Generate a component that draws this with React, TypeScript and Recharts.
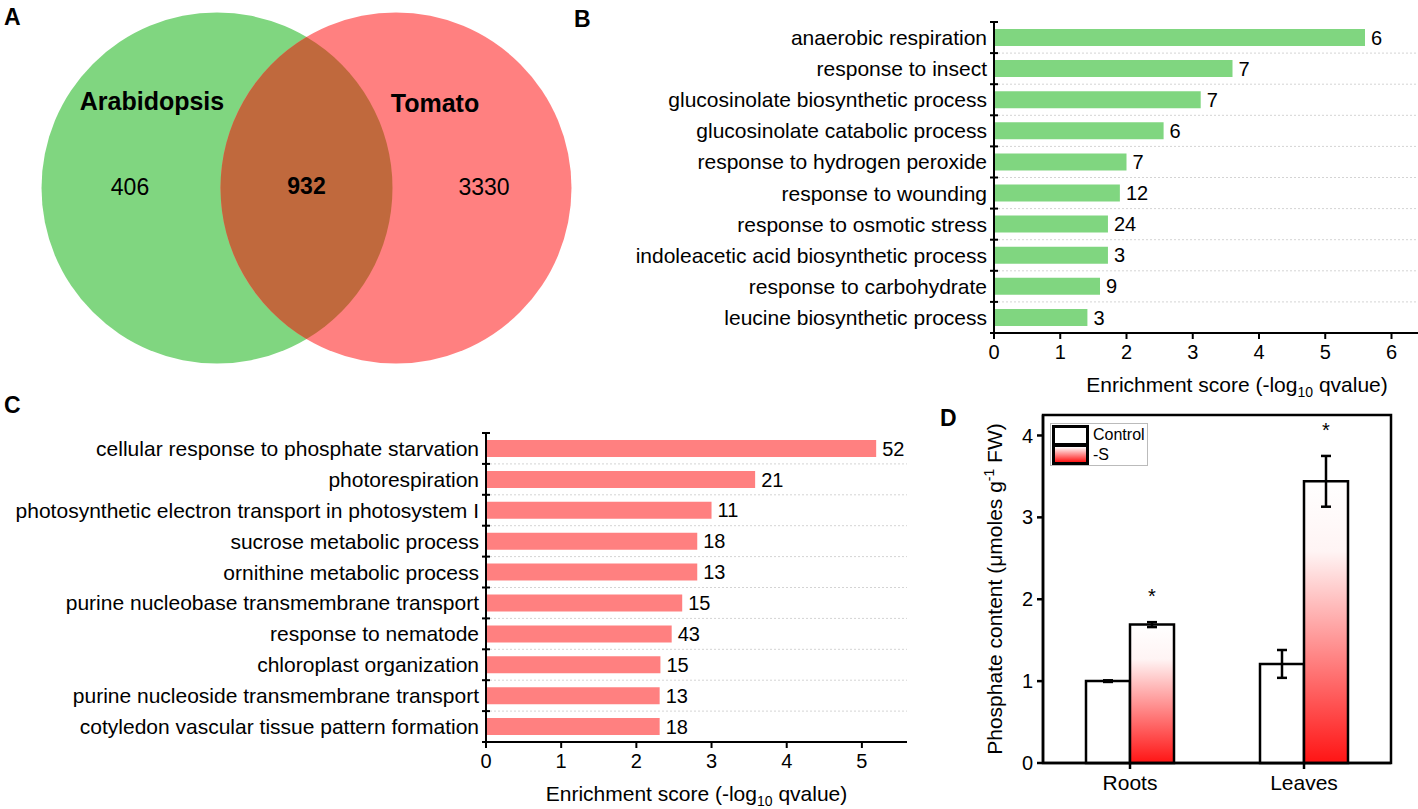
import React from 'react';
import {
  BarChart,
  Bar,
  ComposedChart,
  Scatter,
  XAxis,
  YAxis,
  CartesianGrid,
  LabelList,
  ErrorBar,
  ReferenceArea,
  Label,
} from 'recharts';

const FONT = '"Liberation Sans", Arial, Helvetica, sans-serif';
const GREEN = '#80d680';
const RED = '#ff8080';
const OVERLAP = '#c0693d';

// A: Venn diagram
const vennRegions = ['Arabidopsis', 'both', 'Tomato'];
const vennCounts = [406, 932, 3330];

// B: Arabidopsis GO enrichment
const termsB = [
  'anaerobic respiration',
  'response to insect',
  'glucosinolate biosynthetic process',
  'glucosinolate catabolic process',
  'response to hydrogen peroxide',
  'response to wounding',
  'response to osmotic stress',
  'indoleacetic acid biosynthetic process',
  'response to carbohydrate',
  'leucine biosynthetic process',
];
const scoresB = [5.6, 3.6, 3.12, 2.56, 2.0, 1.9, 1.72, 1.72, 1.6, 1.41];
const genesB = [6, 7, 7, 6, 7, 12, 24, 3, 9, 3];
const ticksB = [0, 1, 2, 3, 4, 5, 6];

// C: Tomato GO enrichment
const termsC = [
  'cellular response to phosphate starvation',
  'photorespiration',
  'photosynthetic electron transport in photosystem I',
  'sucrose metabolic process',
  'ornithine metabolic process',
  'purine nucleobase transmembrane transport',
  'response to nematode',
  'chloroplast organization',
  'purine nucleoside transmembrane transport',
  'cotyledon vascular tissue pattern formation',
];
const scoresC = [5.19, 3.58, 3.0, 2.81, 2.81, 2.61, 2.47, 2.32, 2.31, 2.31];
const genesC = [52, 21, 11, 18, 13, 15, 43, 15, 13, 18];
const ticksC = [0, 1, 2, 3, 4, 5];

// D: phosphate content
const tissues = ['Roots', 'Leaves'];
const controlMean = [1.0, 1.21];
const controlErr = [0.01, 0.17];
const sulfurMean = [1.69, 3.44];
const sulfurErr = [0.03, 0.31];
const significance = ['*', '*'];
const ticksD = [0, 1, 2, 3, 4];

const vennData = vennRegions.map((region, i) => ({ region, count: vennCounts[i] }));
const dataB = termsB.map((term, i) => ({ term, score: scoresB[i], genes: genesB[i] }));
const dataC = termsC.map((term, i) => ({ term, score: scoresC[i], genes: genesC[i] }));
const dataD = tissues.map((tissue, i) => ({
  tissue,
  control: controlMean[i],
  controlErr: controlErr[i],
  sulfur: sulfurMean[i],
  sulfurErr: sulfurErr[i],
  sig: significance[i],
}));

// venn geometry: regions sit on a point scale, sets at both ends
const VENN_CHART_W = 600;
const VENN_LEFT = 217;
const VENN_W = 179;
const VENN_R = 175.5;
const VENN_STEP = VENN_W / 2;

const SetCircle = (props: any) => {
  const { cx, cy, payload } = props;
  if (payload.region === 'both') return <g />;
  return <circle cx={cx} cy={cy} r={VENN_R} fill={payload.region === 'Arabidopsis' ? GREEN : RED} />;
};

const Lens = (props: any) => {
  const { cx, cy, payload } = props;
  if (payload.region !== 'both') return <g />;
  const h = Math.sqrt(VENN_R * VENN_R - VENN_STEP * VENN_STEP);
  const d = `M ${cx} ${cy - h} A ${VENN_R} ${VENN_R} 0 0 0 ${cx} ${cy + h} A ${VENN_R} ${VENN_R} 0 0 0 ${cx} ${cy - h} Z`;
  return <path d={d} fill={OVERLAP} />;
};

const VennText = (props: any) => {
  const { cx, cy, payload } = props;
  if (payload.region === 'both') {
    return (
      <text x={cx} y={cy + 6} textAnchor="middle" fontSize={23} fontWeight="bold" fill="#000">
        {payload.count}
      </text>
    );
  }
  const left = payload.region === 'Arabidopsis';
  return (
    <g>
      <text x={cx + (left ? -65 : 39)} y={cy + (left ? -78 : -76)} textAnchor="middle" fontSize={25} fontWeight="bold" fill="#000">
        {payload.region}
      </text>
      <text x={cx + (left ? -87 : 88)} y={cy + 7} textAnchor="middle" fontSize={23} fill="#000">
        {payload.count}
      </text>
    </g>
  );
};

const makeTermTick = (step: number) => (props: any) => {
  const { x, y, payload, index } = props;
  const ax = x + 7;
  return (
    <g>
      <text x={x} y={y} dy="0.355em" textAnchor="end" fontSize={21} fill="#000">
        {payload.value}
      </text>
      <line x1={ax - 4} x2={ax + 4} y1={y + step / 2} y2={y + step / 2} stroke="#000" strokeWidth={2} />
      {index === 0 && (
        <line x1={ax - 4} x2={ax + 4} y1={y - step / 2} y2={y - step / 2} stroke="#000" strokeWidth={2} />
      )}
    </g>
  );
};

const makeEnrichLabel = (shift: number) => (props: any) => {
  const { x, y, width } = props.viewBox;
  return (
    <text x={x + width / 2 + shift} y={y + 59} textAnchor="middle" fontSize={21} fill="#000">
      Enrichment score (-log
      <tspan fontSize={14} dy={5}>10</tspan>
      <tspan dy={-5}> qvalue)</tspan>
    </text>
  );
};

const boundaryLines = (n: number) => (props: any) => {
  const { offset } = props;
  const out: number[] = [];
  for (let i = 1; i < n; i++) out.push(offset.top + (i * offset.height) / n);
  return out;
};

const axisStyle = { stroke: '#000', strokeWidth: 2 };

function EnrichmentChart(props: {
  data: any[];
  color: string;
  width: number;
  height: number;
  top: number;
  right: number;
  axisWidth: number;
  maxX: number;
  ticks: number[];
  labelShift: number;
}) {
  const { data, color, width, height, top, right, axisWidth, maxX, ticks, labelShift } = props;
  const plotH = height - top - 67;
  const step = plotH / data.length;
  return (
    <BarChart
      layout="vertical"
      width={width}
      height={height}
      data={data}
      margin={{ top, right, bottom: 27, left: 0 }}
    >
      <CartesianGrid
        vertical={false}
        stroke="#d4d4d4"
        strokeDasharray="2 2"
        horizontalCoordinatesGenerator={boundaryLines(data.length)}
      />
      <XAxis
        type="number"
        domain={[0, maxX]}
        ticks={ticks}
        height={40}
        tickSize={6}
        tickMargin={6}
        axisLine={axisStyle}
        tickLine={axisStyle}
        tick={{ fill: '#000', fontSize: 20 }}
      >
        <Label content={makeEnrichLabel(labelShift)} />
      </XAxis>
      <YAxis
        type="category"
        dataKey="term"
        width={axisWidth}
        interval={0}
        tickSize={0}
        tickMargin={7}
        axisLine={axisStyle}
        tickLine={false}
        tick={makeTermTick(step)}
      />
      <Bar dataKey="score" fill={color} barSize={17} isAnimationActive={false}>
        <LabelList dataKey="genes" position="right" offset={6} fill="#000" fontSize={20} />
      </Bar>
    </BarChart>
  );
}

const StarLabel = (props: any) => {
  const { x, y, width, height, value, index } = props;
  const pxPerUnit = height / sulfurMean[index];
  const top = y - sulfurErr[index] * pxPerUnit;
  return (
    <text x={x + width / 2} y={top - 19} textAnchor="middle" fontSize={20} fill="#000">
      {value}
    </text>
  );
};

const PhosphateLabel = (props: any) => {
  const { x, y, width, height } = props.viewBox;
  const cx = x + width - 48;
  const cy = y + height / 2;
  return (
    <text
      x={cx}
      y={cy}
      dy="0.35em"
      textAnchor="middle"
      fontSize={21}
      fill="#000"
      transform={`rotate(-90 ${cx} ${cy})`}
    >
      Phosphate content (μmoles g
      <tspan fontSize={14} dy={-8}>-1</tspan>
      <tspan dy={8}> FW)</tspan>
    </text>
  );
};

const panelLetter = (letter: string, left: number, top: number) => (
  <div
    style={{
      position: 'absolute',
      left,
      top,
      fontSize: 23,
      fontWeight: 'bold',
      lineHeight: '23px',
    }}
  >
    {letter}
  </div>
);

export default function App() {
  const thick = { stroke: '#000', strokeWidth: 2.5 };
  return (
    <div
      style={{
        position: 'absolute',
        left: 0,
        top: 0,
        width: 1418,
        height: 809,
        background: '#fff',
        fontFamily: FONT,
        overflow: 'hidden',
      }}
    >
      {/* A */}
      <div style={{ position: 'absolute', left: 0, top: 0 }}>
        <ComposedChart
          width={VENN_CHART_W}
          height={400}
          data={vennData}
          margin={{ top: 0, right: VENN_CHART_W - VENN_LEFT - VENN_W, bottom: 24, left: VENN_LEFT }}
        >
          <XAxis dataKey="region" type="category" hide />
          <YAxis type="number" domain={[0, 2]} hide />
          <Scatter dataKey={() => 1} shape={SetCircle} isAnimationActive={false} />
          <Scatter dataKey={() => 1} shape={Lens} isAnimationActive={false} />
          <Scatter dataKey={() => 1} shape={VennText} isAnimationActive={false} />
        </ComposedChart>
      </div>

      {/* B */}
      <div style={{ position: 'absolute', left: 560, top: 0 }}>
        <EnrichmentChart
          data={dataB}
          color={GREEN}
          width={858}
          height={400}
          top={22}
          right={0}
          axisWidth={434}
          maxX={6.4}
          ticks={ticksB}
          labelShift={31}
        />
      </div>

      {/* C */}
      <div style={{ position: 'absolute', left: 0, top: 400 }}>
        <EnrichmentChart
          data={dataC}
          color={RED}
          width={930}
          height={409}
          top={33}
          right={23}
          axisWidth={486}
          maxX={5.6}
          ticks={ticksC}
          labelShift={0}
        />
      </div>

      {/* D */}
      <div style={{ position: 'absolute', left: 940, top: 400 }}>
        <BarChart
          width={478}
          height={409}
          data={dataD}
          margin={{ top: 15, right: 27, bottom: 0, left: 0 }}
          barGap={0}
          barSize={44}
        >
          <defs>
            <linearGradient id="gradS" x1="0" y1="0" x2="0" y2="1">
              <stop offset="0" stopColor="#ffffff" />
              <stop offset="0.25" stopColor="#fff4f4" />
              <stop offset="1" stopColor="#ff1414" />
            </linearGradient>
          </defs>
          <XAxis
            dataKey="tissue"
            height={46}
            tickSize={6}
            tickMargin={6}
            axisLine={thick}
            tickLine={thick}
            tick={{ fill: '#000', fontSize: 21 }}
          />
          <YAxis
            type="number"
            domain={[0, 4.25]}
            ticks={ticksD}
            width={103}
            tickSize={6}
            tickMargin={4}
            axisLine={thick}
            tickLine={thick}
            tick={{ fill: '#000', fontSize: 20 }}
          >
            <Label content={PhosphateLabel} />
          </YAxis>
          <ReferenceArea y1={0} y2={4.25} fill="none" stroke="#000" strokeWidth={2.5} />
          <Bar dataKey="control" fill="#ffffff" stroke="#000" strokeWidth={2.5} isAnimationActive={false}>
            <ErrorBar dataKey="controlErr" width={5} stroke="#000" strokeWidth={2.5} />
          </Bar>
          <Bar dataKey="sulfur" fill="url(#gradS)" stroke="#000" strokeWidth={2.5} isAnimationActive={false}>
            <ErrorBar dataKey="sulfurErr" width={5} stroke="#000" strokeWidth={2.5} />
            <LabelList dataKey="sig" content={StarLabel} />
          </Bar>
        </BarChart>
        {/* legend */}
        <div
          style={{
            position: 'absolute',
            left: 110,
            top: 23,
            width: 98,
            height: 43,
            boxSizing: 'border-box',
            border: '1px solid #bbbbbb',
            background: '#fff',
            fontSize: 16,
          }}
        >
          <div
            style={{
              position: 'absolute',
              left: 1,
              top: 1,
              width: 37,
              height: 21,
              boxSizing: 'border-box',
              border: '3px solid #000',
              background: '#fff',
            }}
          />
          <div
            style={{
              position: 'absolute',
              left: 1,
              top: 20,
              width: 37,
              height: 21,
              boxSizing: 'border-box',
              border: '3px solid #000',
              background: 'linear-gradient(#ffffff, #ff1414)',
            }}
          />
          <div style={{ position: 'absolute', left: 42, top: 2, lineHeight: '18px' }}>Control</div>
          <div style={{ position: 'absolute', left: 42, top: 22, lineHeight: '18px' }}>-S</div>
        </div>
      </div>

      {panelLetter('A', 4, 6)}
      {panelLetter('B', 574, 8)}
      {panelLetter('C', 4, 394)}
      {panelLetter('D', 940, 407)}
    </div>
  );
}
